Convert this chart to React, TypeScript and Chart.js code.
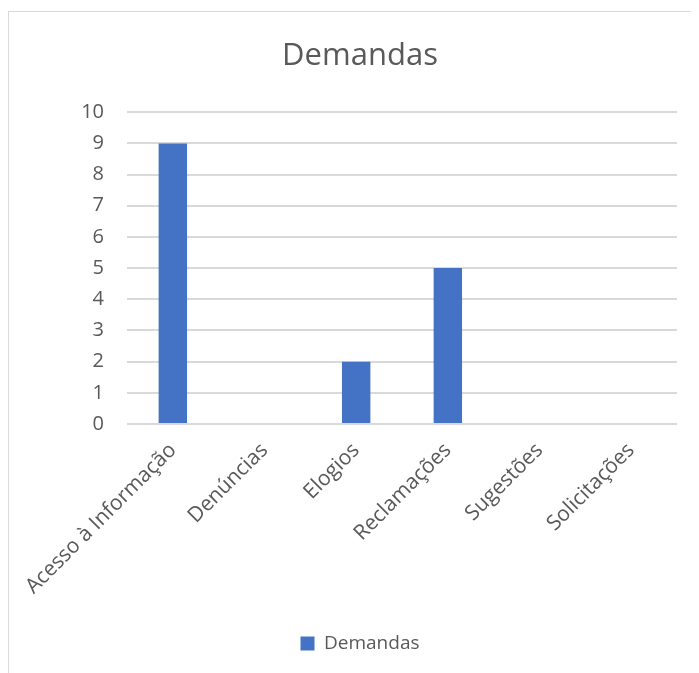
import React, { useEffect, useRef } from "react";
import { Chart, registerables } from "chart.js";

Chart.register(...registerables);

const categories = [
  "Acesso à Informação",
  "Denúncias",
  "Elogios",
  "Reclamações",
  "Sugestões",
  "Solicitações",
];
const demandas = [9, 0, 2, 5, 0, 0];
const seriesName = "Demandas";
const chartTitle = "Demandas";

const FONT = "'Open Sans', sans-serif";
const TEXT = "#595959";
const GRID = "#d9d9d9";

export default function App() {
  const ref = useRef<HTMLCanvasElement | null>(null);
  useEffect(() => {
    if (!ref.current) return;
    const chart = new Chart(ref.current, {
      type: "bar",
      data: {
        labels: categories,
        datasets: [
          {
            label: seriesName,
            data: demandas,
            backgroundColor: "#4472C4",
            borderWidth: 0,
            barPercentage: 0.31,
            categoryPercentage: 1,
          },
        ],
      },
      options: {
        responsive: false,
        animation: false,
        layout: { padding: { left: 34, right: 34, top: 20, bottom: 11 } },
        plugins: {
          title: {
            display: true,
            text: chartTitle,
            color: TEXT,
            font: { family: FONT, size: 31, weight: "normal" },
            padding: { top: 6, bottom: 37 },
          },
          legend: {
            display: true,
            position: "bottom",
            labels: {
              color: TEXT,
              font: { family: FONT, size: 19 },
              boxWidth: 14,
              boxHeight: 14,
              padding: 10,
            },
          },
          tooltip: { enabled: false },
        },
        scales: {
          x: {
            grid: { display: false, drawTicks: false },
            border: { display: false },
            ticks: {
              color: TEXT,
              font: { family: FONT, size: 21 },
              minRotation: 45,
              maxRotation: 45,
              padding: 14,
              autoSkip: false,
            },
            afterFit: (scale: any) => {
              scale.height = 200;
              scale.paddingLeft = 0;
              scale.paddingRight = 0;
            },
          },
          y: {
            min: 0,
            max: 10,
            grid: { color: GRID, lineWidth: 2, drawTicks: false },
            border: { display: false },
            ticks: {
              stepSize: 1,
              color: TEXT,
              font: { family: FONT, size: 20 },
              padding: 23,
            },
            afterFit: (scale: any) => {
              scale.width = 84;
            },
          },
        },
      },
    });
    return () => chart.destroy();
  }, []);

  return (
    <div style={{ width: 691, height: 665, overflow: "hidden", position: "relative" }}>
      <div
        style={{
          position: "absolute",
          left: 0,
          top: 3,
          width: 704,
          height: 700,
          border: "1px solid #d9d9d9",
          boxSizing: "border-box",
        }}
      >
        <canvas ref={ref} width={702} height={662} style={{ display: "block" }} />
      </div>
    </div>
  );
}
